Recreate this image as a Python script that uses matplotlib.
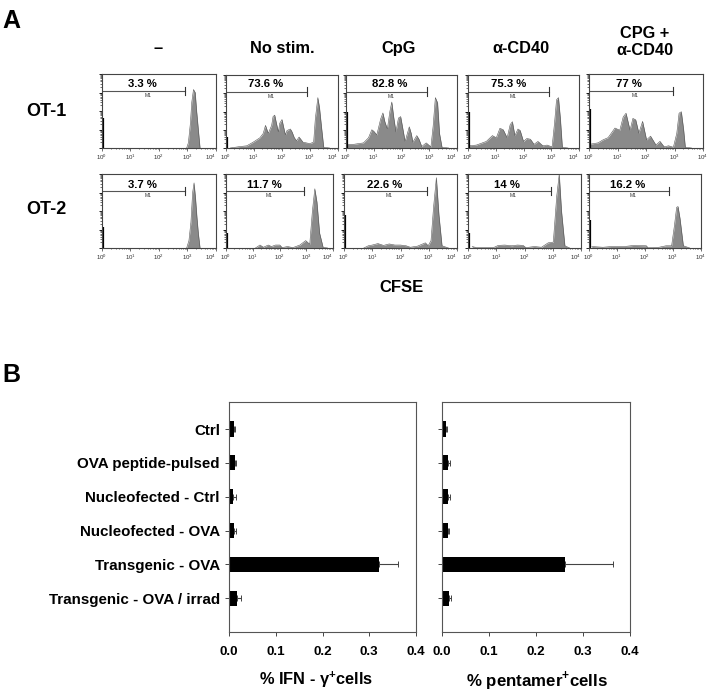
import matplotlib
matplotlib.use("Agg")
import matplotlib.pyplot as plt
import numpy as np

plt.rcParams["font.family"] = ["Liberation Sans", "DejaVu Sans"]
plt.rcParams["mathtext.fontset"] = "custom"
plt.rcParams["mathtext.rm"] = "Liberation Sans"
plt.rcParams["mathtext.bf"] = "Liberation Sans:bold"

W, H = 712, 694

# panel A: column titles, percentages, histogram outlines (log10 CFSE, fraction of axis height)
col_titles = ["–", "No stim.", "CpG", "α-CD40", "CPG +\nα-CD40"]
row_titles = ["OT-1", "OT-2"]
pct_top = ["3.3 %", "73.6 %", "82.8 %", "75.3 %", "77 %"]
pct_bottom = ["3.7 %", "11.7 %", "22.6 %", "14 %", "16.2 %"]
gate_top = [2.92, 2.90, 2.92, 2.93, 2.93]
gate_bottom = [2.92, 2.92, 2.93, 2.93, 2.87]
spike_top = [0.40, 0.15, 0.50, 0.50, 0.53]
spike_bottom = [0.28, 0.20, 0.45, 0.20, 0.38]

t1_x = [2.97, 3.03, 3.1, 3.15, 3.21, 3.27, 3.32, 3.38, 3.44]
t1_y = [0, 0.07, 0.33, 0.62, 0.79, 0.75, 0.5, 0.25, 0]
t2_x = [0.15, 0.5, 0.74, 0.97, 1.09, 1.21, 1.33, 1.41, 1.51, 1.63, 1.68, 1.74, 1.8, 1.87, 1.92, 2.0, 2.05, 2.12, 2.18,
        2.3, 2.36, 2.44, 2.52, 2.61, 2.75, 2.99, 3.13, 3.19, 3.28, 3.34, 3.41, 3.49, 3.7]
t2_y = [0, 0.02, 0.03, 0.08, 0.11, 0.14, 0.2, 0.31, 0.2, 0.31, 0.43, 0.45, 0.34, 0.22, 0.34, 0.39, 0.3, 0.18, 0.24,
        0.26, 0.22, 0.14, 0.1, 0.15, 0.08, 0.06, 0.08, 0.4, 0.69, 0.55, 0.29, 0.01, 0]
t3_x = [0.02, 0.27, 0.63, 0.81, 0.93, 1.0, 1.11, 1.25, 1.33, 1.4, 1.49, 1.58, 1.65, 1.72, 1.8, 1.89, 1.97, 2.05, 2.13,
        2.28, 2.35, 2.41, 2.55, 2.63, 2.73, 2.89, 3.06, 3.14, 3.22, 3.3, 3.37, 3.46, 3.7]
t3_y = [0.05, 0.05, 0.07, 0.14, 0.25, 0.23, 0.18, 0.4, 0.48, 0.36, 0.26, 0.5, 0.63, 0.42, 0.22, 0.41, 0.43, 0.26, 0.09,
        0.29, 0.2, 0.08, 0.17, 0.12, 0.02, 0.07, 0.015, 0.3, 0.69, 0.62, 0.2, 0.01, 0]
t4_x = [0.02, 0.3, 0.66, 0.88, 1.02, 1.15, 1.27, 1.41, 1.52, 1.6, 1.69, 1.8, 1.88, 2.0, 2.12, 2.25, 2.38, 2.52, 2.7,
        2.85, 3.03, 3.12, 3.19, 3.26, 3.33, 3.4, 3.6]
t4_y = [0.03, 0.04, 0.09, 0.17, 0.14, 0.27, 0.25, 0.14, 0.32, 0.36, 0.17, 0.26, 0.24, 0.09, 0.13, 0.12, 0.05, 0.09, 0.03,
        0.04, 0.015, 0.35, 0.66, 0.69, 0.4, 0.01, 0]
t5_x = [0.02, 0.32, 0.49, 0.67, 0.91, 1.08, 1.2, 1.3, 1.44, 1.54, 1.64, 1.75, 1.88, 2.02, 2.16, 2.35, 2.49, 2.64, 2.79,
        2.96, 3.08, 3.16, 3.24, 3.32, 3.38, 3.6]
t5_y = [0.05, 0.07, 0.11, 0.14, 0.27, 0.24, 0.42, 0.47, 0.24, 0.4, 0.38, 0.2, 0.36, 0.11, 0.16, 0.04, 0.09, 0.015, 0.03,
        0.01, 0.2, 0.47, 0.49, 0.25, 0.01, 0]

b1_x = [2.97, 3.05, 3.12, 3.18, 3.23, 3.28, 3.33, 3.38, 3.44]
b1_y = [0, 0.1, 0.35, 0.75, 0.88, 0.68, 0.42, 0.2, 0]
b2_x = [1.1, 1.27, 1.4, 1.58, 1.7, 1.85, 2.01, 2.1, 2.3, 2.5, 2.76, 2.98, 3.13, 3.23, 3.32, 3.4, 3.5, 3.63, 3.8]
b2_y = [0, 0.04, 0.01, 0.04, 0.02, 0.04, 0.04, 0.005, 0.02, 0.005, 0.04, 0.1, 0.05, 0.5, 0.8, 0.62, 0.2, 0.01, 0]
b3_x = [0.7, 0.86, 1.0, 1.2, 1.4, 1.6, 1.8, 2.0, 2.2, 2.35, 2.6, 2.88, 2.98, 3.08, 3.17, 3.27, 3.36, 3.47, 3.7]
b3_y = [0, 0.03, 0.04, 0.06, 0.035, 0.055, 0.04, 0.04, 0.03, 0.01, 0.025, 0.07, 0.03, 0.1, 0.55, 0.95, 0.45, 0.03, 0]
b4_x = [0.15, 0.3, 0.9, 1.07, 1.3, 1.55, 1.75, 1.95, 2.05, 2.35, 2.6, 2.84, 3.02, 3.14, 3.23, 3.31, 3.43, 3.6]
b4_y = [0.02, 0.005, 0.005, 0.035, 0.04, 0.03, 0.04, 0.035, 0.005, 0.02, 0.01, 0.07, 0.08, 0.7, 1.0, 0.5, 0.03, 0]
b5_x = [0.1, 0.5, 0.8, 1.27, 1.6, 2.05, 2.1, 2.5, 2.75, 2.95, 3.05, 3.13, 3.18, 3.25, 3.37, 3.6]
b5_y = [0.02, 0.01, 0.02, 0.02, 0.035, 0.03, 0.005, 0.01, 0.03, 0.03, 0.3, 0.55, 0.56, 0.4, 0.03, 0]

hist_top = [(t1_x, t1_y), (t2_x, t2_y), (t3_x, t3_y), (t4_x, t4_y), (t5_x, t5_y)]
hist_bottom = [(b1_x, b1_y), (b2_x, b2_y), (b3_x, b3_y), (b4_x, b4_y), (b5_x, b5_y)]

# panel B
categories = ["Ctrl", "OVA peptide-pulsed", "Nucleofected - Ctrl", "Nucleofected - OVA", "Transgenic - OVA",
              "Transgenic - OVA / irrad"]
ifn_vals = [0.0105, 0.0135, 0.009, 0.01, 0.32, 0.017]
ifn_errs = [0.0015, 0.0025, 0.006, 0.004, 0.041, 0.0085]
pent_vals = [0.0085, 0.013, 0.0135, 0.012, 0.262, 0.015]
pent_errs = [0.0025, 0.003, 0.0045, 0.003, 0.102, 0.005]
bar_ticks = [0.0, 0.1, 0.2, 0.3, 0.4]

fig = plt.figure(figsize=(W / 100, H / 100), dpi=100, facecolor="white")


def add_axes_px(left, top, right, bottom):
    return fig.add_axes([left / W, 1 - bottom / H, (right - left) / W, (bottom - top) / H])


def label_px(x, y, s, size, **kw):
    kw.setdefault("ha", "center")
    kw.setdefault("weight", "bold")
    kw.setdefault("va", "center_baseline")
    fig.text(x / W, 1 - y / H, s, fontsize=size, color="black", **kw)


def draw_hist(box, xy, spike, gate, pct, pct_px, tight_right):
    ax = add_axes_px(*box)
    xs = 10 ** np.array(xy[0], dtype=float)
    ax.fill_between(xs, xy[1], 0, color="#8a8a8a", lw=0)
    ax.plot(xs, xy[1], color="#555555", lw=0.4)
    ax.plot([1.05, 1.05], [0, spike], color="black", lw=1.6, solid_capstyle="butt")
    ax.set_xscale("log")
    ax.set_xlim(1, 1e4)
    ax.set_ylim(0, 1)
    gate_y = 0.77
    ax.plot([1, 10 ** gate], [gate_y, gate_y], color="#555555", lw=0.8)
    ax.plot([10 ** gate] * 2, [gate_y - 0.06, gate_y + 0.06], color="#333333", lw=0.8)
    ax.text(10 ** (gate * 0.55), gate_y - 0.03, "M1", fontsize=3.6, ha="center", va="top", color="#333333")
    ax.set_xticks([1, 10, 100, 1000, 10000])
    ax.tick_params(axis="x", which="major", length=1.8, width=0.5, labelsize=4.4, pad=1.6, colors="#333333")
    ax.tick_params(axis="x", which="minor", length=1, width=0.4, labelbottom=False)
    ax.set_yticks([0, 0.25, 0.5, 0.75, 1.0])
    ax.set_yticks(np.concatenate([d + 0.25 * np.log10(np.arange(2, 10)) for d in [0, 0.25, 0.5, 0.75]]), minor=True)
    ax.tick_params(axis="y", which="major", length=2, width=0.6, labelleft=False)
    ax.tick_params(axis="y", which="minor", length=1.2, width=0.4)
    for s in ax.spines.values():
        s.set_linewidth(0.8)
        s.set_color("#444444")
    if tight_right:
        # neighbouring panel is close, keep its 10^0 clear of this 10^4
        ax.get_xticklabels()[-1].set_ha("right")
    label_px(pct_px[0], pct_px[1], pct, 8.2)


boxes_top = [(102, 74, 216, 148), (226, 75, 338, 148), (346, 75, 457, 148), (468, 75, 579, 148), (589, 74, 703, 148)]
boxes_bottom = [(102, 174, 216, 248), (226, 174, 333, 248), (344, 174, 457, 248), (468, 174, 581, 248),
                (589, 174, 701, 248)]
pct_x_top = [142, 266, 390, 509, 629]
pct_x_bottom = [142, 264, 385, 507, 628]

for i in range(5):
    tight_t = i < 4 and boxes_top[i + 1][0] - boxes_top[i][2] < 12
    tight_b = i < 4 and boxes_bottom[i + 1][0] - boxes_bottom[i][2] < 12
    draw_hist(boxes_top[i], hist_top[i], spike_top[i], gate_top[i], pct_top[i], (pct_x_top[i], 83), tight_t)
    draw_hist(boxes_bottom[i], hist_bottom[i], spike_bottom[i], gate_bottom[i], pct_bottom[i],
              (pct_x_bottom[i], 184), tight_b)

col_x = [158, 282, 399, 521, 645]
for i, t in enumerate(col_titles):
    label_px(col_x[i], 39 if "\n" in t else 47, t, 11.8, linespacing=1.2)
label_px(46, 110, row_titles[0], 13)
label_px(46, 208, row_titles[1], 13)
label_px(401, 286, "CFSE", 12)
label_px(11, 18, "A", 18)
label_px(11, 373, "B", 18)


def draw_bars(box, vals, errs, show_names):
    ax = add_axes_px(*box)
    y = np.arange(len(vals))
    ax.barh(y, vals, height=0.45, color="black", xerr=[np.zeros(len(errs)), errs],
            error_kw=dict(ecolor="#444444", elinewidth=0.8, capsize=2.5, capthick=0.7))
    ax.set_xlim(0, 0.4)
    ax.set_ylim(6.0, -0.8)
    ax.set_xticks(bar_ticks)
    ax.set_xticklabels(["%.1f" % v for v in bar_ticks], fontsize=9.6, fontweight="bold")
    ax.set_yticks(y)
    if show_names:
        ax.set_yticklabels(categories, fontsize=10.9, fontweight="bold")
    else:
        ax.set_yticklabels([])
    ax.tick_params(axis="both", length=3, width=0.7, color="#444444", pad=7)
    ax.tick_params(axis="y", pad=3.5)
    for s in ax.spines.values():
        s.set_linewidth(0.8)
        s.set_color("#555555")
    return ax


draw_bars((229, 402, 416, 632), ifn_vals, ifn_errs, True)
draw_bars((442, 402, 630, 632), pent_vals, pent_errs, False)
label_px(316, 677, "% IFN - γ$^{\\mathbf{+}}$cells", 11.8)
label_px(537, 677, "% pentamer$^{\\mathbf{+}}$cells", 12.2)

fig.savefig("out.png", dpi=100, facecolor="white")
